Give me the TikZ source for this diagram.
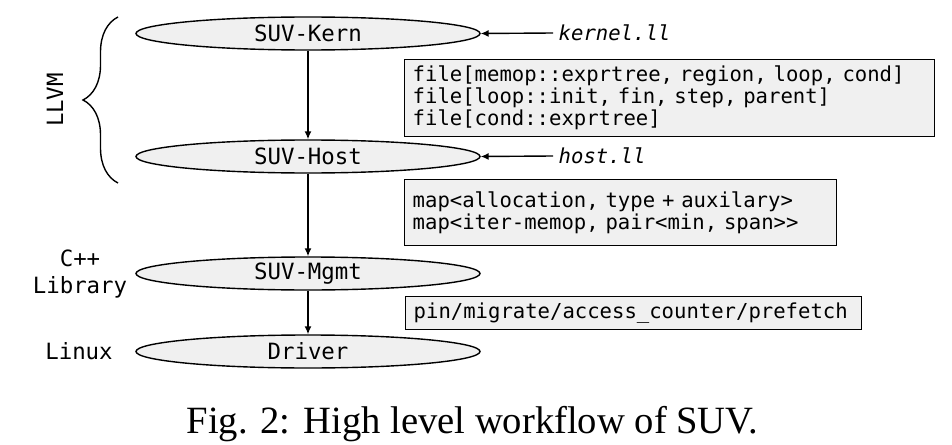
\documentclass[tikz,border=0pt]{standalone}
\usepackage{fontspec}
\setmainfont{Liberation Serif}
\setmonofont{DejaVu Sans Mono}
\usepackage{tikz}
\usetikzlibrary{shapes.geometric}
\usetikzlibrary{arrows.meta}
\usetikzlibrary{decorations.pathreplacing}
\definecolor{lightfill}{gray}{0.94}
\tikzset{stage/.style = {draw, ellipse, fill = lightfill, inner sep = 0, minimum width = 172pt, minimum height = 16.5pt, font = \ttfamily\fontsize{11.2}{13}\selectfont}}
\tikzset{infobox/.style = {draw, fill = lightfill, anchor = north west, inner xsep = 4pt, inner ysep = 2pt, align = left, font = \ttfamily\fontsize{10.3}{11}\selectfont}}
\tikzset{srcfile/.style = {anchor = west, inner sep = 2.5pt, font = \ttfamily\itshape\fontsize{10.3}{12}\selectfont}}
\tikzset{layer/.style = {align = center, font = \ttfamily\fontsize{11.2}{13.5}\selectfont}}
\tikzset{every picture/.style={
    every path/.style={line width=0.7pt},
}}

\begin{document}
\begin{tikzpicture}[x=0.5pt, y=-0.5pt, >={Latex[length=4pt, width=3.5pt]}]
      \useasboundingbox (0,0) rectangle (952,444);
      \node[stage] (kern) at (308,33.5) {SUV-Kern};
      \node[stage] (host) at (308,156.5) {SUV-Host};
      \node[stage] (mgmt) at (308,273.5) {SUV-Mgmt};
      \node[stage] (drv) at (308,351.5) {Driver};
      \draw[->] (kern) -- (host);
      \draw[->] (host) -- (mgmt);
      \draw[->] (mgmt) -- (drv);
      \node[srcfile] (kll) at (553,33) {kernel.ll};
      \node[srcfile] (hll) at (553,156) {host.ll};
      \draw[->] (kll.west) -- (kern.east);
      \draw[->] (hll.west) -- (host.east);
      \node[infobox, text width = 257pt, minimum height = 38.5pt] (b1) at (404,59)
        {file[memop::exprtree, region, loop, cond]\\file[loop::init, fin, step, parent]\\file[cond::exprtree]};
      \node[infobox, text width = 208pt, minimum height = 33pt] (b2) at (404,179)
        {map<allocation, type + auxilary>\\map<iter-memop, pair<min, span>>};
      \node[infobox, text width = 220pt, minimum height = 16.5pt] (b3) at (405,296)
        {pin/migrate/access\_counter/prefetch};
      \draw[decorate, decoration={brace, amplitude=17.5pt}] (118,183) -- (118,17);
      \node[layer, rotate=90] (llvm) at (55,100) {LLVM};
      \node[layer] (cpp) at (80,274) {C++\\Library};
      \node[layer] (linux) at (79,351.5) {Linux};
      \node[anchor=base, font=\fontsize{19.3}{23}\selectfont] (cap) at (472.5,433) {Fig. 2: High level workflow of SUV.};
    \end{tikzpicture}
\end{document}
